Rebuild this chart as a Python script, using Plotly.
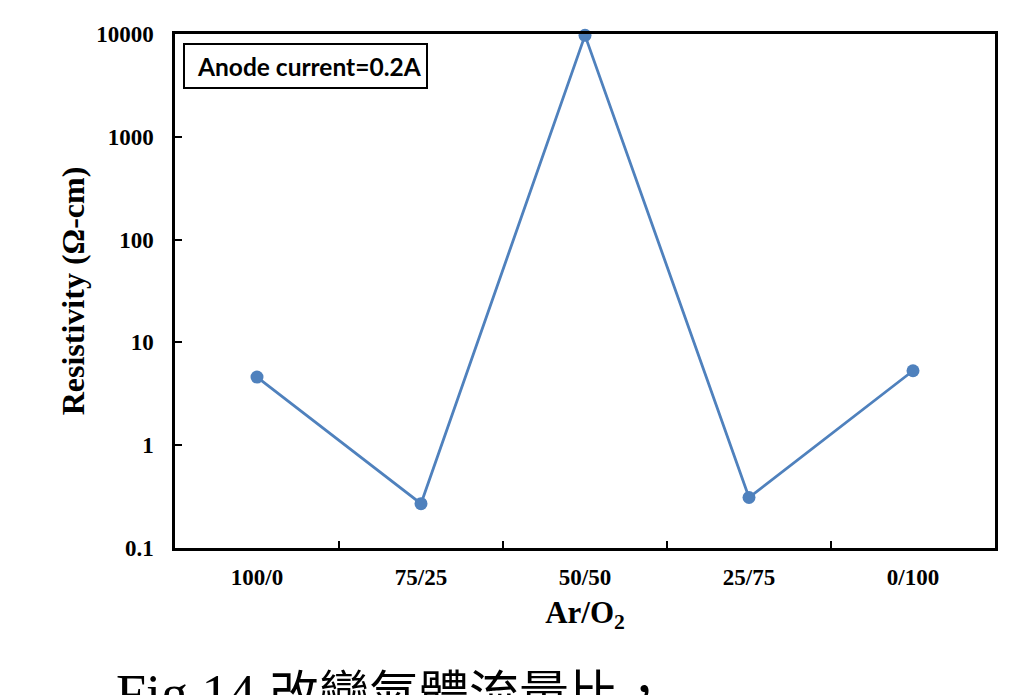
import plotly.graph_objects as go

ratios = ["100/0", "75/25", "50/50", "25/75", "0/100"]
resistivity = [4.6, 0.27, 9700, 0.31, 5.3]
ytick_vals = [0.1, 1, 10, 100, 1000, 10000]
ytick_text = ["0.1", "1", "10", "100", "1000", "10000"]

blue = "#4F81BD"
serif = "Liberation Serif, Times New Roman, serif"

# page body has an 8px default margin; compensate
OFF = 8
L, T, R, B = 175, 34, 995, 548   # plot area in window pixels
W, H = 1009, 695

def px(x):
    return (x - L) / (R - L)

def py(y):
    return (B - y) / (B - T)

fig = go.Figure()
fig.add_trace(go.Scatter(
    x=ratios, y=resistivity, mode="lines+markers",
    line=dict(color=blue, width=2.8),
    marker=dict(color=blue, size=13),
    cliponaxis=False, showlegend=False,
))

fig.update_layout(
    width=W - OFF, height=H - OFF,
    margin=dict(l=L - OFF, r=W - R, t=T - OFF, b=H - B),
    paper_bgcolor="white", plot_bgcolor="white",
    xaxis=dict(
        type="category", tickson="boundaries", range=[-0.5, 4.5],
        ticks="inside", ticklen=7, tickwidth=2, tickcolor="black",
        showline=True, linecolor="black", linewidth=2.5, mirror=True,
        showgrid=False, zeroline=False,
        tickfont=dict(family=serif, size=23, color="black", weight="bold"),
        ticklabelstandoff=7,
        title=dict(text="Ar/O<sub>2</sub>", font=dict(family=serif, size=31, color="black", weight="bold"), standoff=12),
    ),
    yaxis=dict(
        type="log", range=[-1, 4],
        tickvals=ytick_vals, ticktext=ytick_text,
        ticks="inside", ticklen=7, tickwidth=2, tickcolor="black",
        showline=True, linecolor="black", linewidth=2.5, mirror=True,
        showgrid=False, zeroline=False,
        tickfont=dict(family=serif, size=23, color="black", weight="bold"),
        ticklabelstandoff=14,
        title=dict(text="Resistivity (Ω-cm)", font=dict(family=serif, size=32, color="black", weight="bold"), standoff=2),
    ),
    shapes=[dict(type="rect", xref="paper", yref="paper",
                 x0=px(184), x1=px(427), y0=py(88), y1=py(44),
                 line=dict(color="black", width=2), fillcolor="white", layer="above")],
    annotations=[
        dict(text="Anode current=0.2A", xref="paper", yref="paper",
             x=px(309), y=py(66), xanchor="center", yanchor="middle",
             showarrow=False, font=dict(family="Lato, Open Sans, sans-serif", size=24.5, color="black", weight="bold")),
        dict(text="Fig.14 <span style='font-size:50px'>改變氣體流量比，</span>", xref="paper", yref="paper",
             x=px(114), y=py(662), xanchor="left", yanchor="top",
             showarrow=False, font=dict(family="Liberation Serif, Noto Sans CJK TC, serif", size=54, color="black")),
    ],
)

fig.write_html("out.html")
